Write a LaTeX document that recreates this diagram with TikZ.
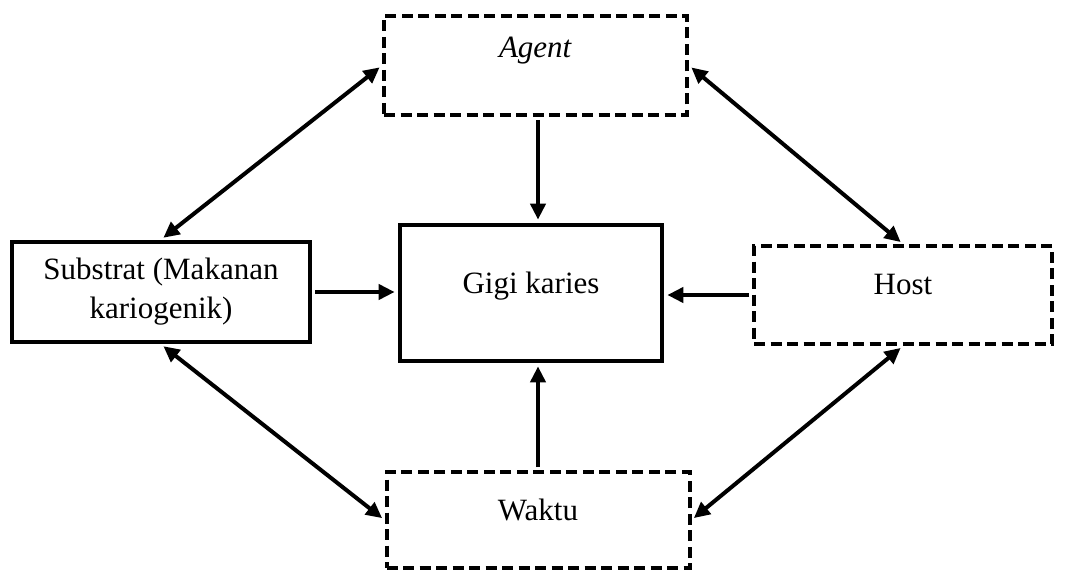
\documentclass[tikz,border=0pt]{standalone}
\usepackage{fontspec}
\setmainfont{Liberation Serif}
\usepackage{tikz}
\usetikzlibrary{arrows.meta}

\tikzset{
  solidbox/.style={draw,line width=4.7pt,rectangle,align=center,inner sep=0pt},
  dashbox/.style={draw,line width=4pt,rectangle,align=center,inner sep=0pt,dash pattern=on 11pt off 5.5pt},
  oneline/.style={text height=21pt,text depth=21pt},
  link/.style={line width=4pt,shorten >=3pt,shorten <=3pt}
}

\begin{document}
\begin{tikzpicture}[line cap=butt,line join=miter,>={Triangle[length=16pt,width=15pt]},x=1pt,y=-1pt,font=\fontsize{31}{39}\selectfont]
\useasboundingbox (0,0) rectangle (1067,572);
% boxes
\node[dashbox,oneline,text depth=36pt,minimum width=303pt,minimum height=99pt] (agent) at (535.5,65.5) {\textit{Agent}};
\node[solidbox,minimum width=298pt,minimum height=100pt] (substrat) at (161,292) {Substrat (Makanan\\kariogenik)};
\node[solidbox,oneline,minimum width=262pt,minimum height=136pt] (gigi) at (531,293) {Gigi karies};
\node[dashbox,oneline,text depth=23pt,minimum width=298pt,minimum height=98pt] (host) at (903,295) {Host};
\node[dashbox,oneline,minimum width=303pt,minimum height=96pt] (waktu) at (538,520) {Waktu};
% arrows
\draw [link,->] (agent.south -| 538,0) -- (gigi.north -| 538,0);
\draw [link,->] (waktu.north -| 538,0) -- (gigi.south -| 538,0);
\draw [link,->] (substrat.east) -- (gigi.west |- substrat.east);
\draw [link,->] (host.west) -- (gigi.east |- host.west);
\draw [link,<->] (agent.west) -- (substrat.north);
\draw [link,<->] (agent.east) -- (host.north);
\draw [link,<->] (substrat.south) -- (waktu.west);
\draw [link,<->] (host.south) -- (waktu.east);
\end{tikzpicture}
\end{document}
